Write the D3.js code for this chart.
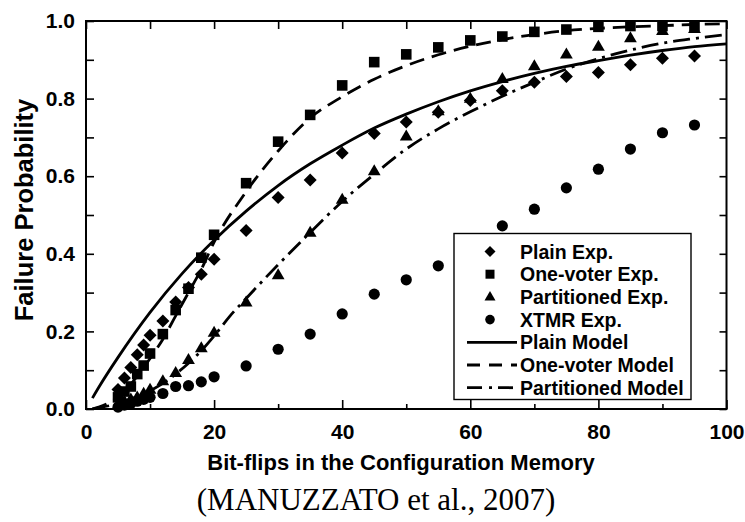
<!DOCTYPE html>
<html>
<head>
<meta charset="utf-8">
<script src="https://cdn.jsdelivr.net/npm/d3@7"></script>
<style>
  html, body { margin: 0; padding: 0; background: #fff; }
  svg { display: block; }
  .lbl { font-family: "Liberation Sans", Arial, Helvetica, sans-serif; font-weight: bold; fill: #000; }
  .cap { font-family: "Liberation Serif", "Times New Roman", serif; fill: #000; }
</style>
</head>
<body>
<svg id="chart" width="745" height="522"></svg>
<script>
// Number of bit-flips injected for each experiment
const flips = [5, 6, 7, 8, 9, 10, 12, 14, 16, 18, 20, 25, 30, 35, 40, 45, 50, 55, 60, 65, 70, 75, 80, 85, 90, 95];

// Measured failure probabilities
const plainExp     = [0.05, 0.08, 0.107, 0.14, 0.165, 0.19, 0.227, 0.276, 0.313, 0.347, 0.386, 0.46, 0.545, 0.59, 0.66, 0.71, 0.74, 0.765, 0.795, 0.82, 0.842, 0.857, 0.867, 0.887, 0.904, 0.91];
const oneVoterExp  = [0.03, 0.045, 0.058, 0.09, 0.112, 0.143, 0.193, 0.255, 0.31, 0.39, 0.449, 0.582, 0.689, 0.758, 0.834, 0.894, 0.914, 0.932, 0.95, 0.96, 0.972, 0.978, 0.985, 0.987, 0.987, 0.988];
const partExp      = [0.01, 0.02, 0.025, 0.03, 0.04, 0.05, 0.072, 0.093, 0.127, 0.157, 0.197, 0.275, 0.345, 0.455, 0.54, 0.613, 0.703, 0.768, 0.80, 0.851, 0.884, 0.914, 0.934, 0.956, 0.975, 0.98];
const xtmrExp      = [0.005, 0.01, 0.015, 0.02, 0.025, 0.03, 0.04, 0.058, 0.06, 0.07, 0.083, 0.111, 0.154, 0.193, 0.245, 0.296, 0.333, 0.369, 0.42, 0.472, 0.515, 0.57, 0.618, 0.67, 0.712, 0.732];

// Analytical model curves (sampled)
const plainModelX = [1, 2, 5, 10, 15, 20, 25, 30, 35, 40, 45, 50, 55, 60, 65, 70, 75, 80, 85, 90, 95, 100];
const plainModelY = [0.028, 0.056, 0.133, 0.249, 0.349, 0.435, 0.51, 0.576, 0.632, 0.68, 0.724, 0.76, 0.792, 0.82, 0.844, 0.865, 0.883, 0.898, 0.912, 0.924, 0.934, 0.941];

const oneVoterModelX = [1, 2, 4, 6, 8, 10, 12, 14, 16, 18, 20, 25, 30, 35, 40, 45, 50, 55, 60, 65, 70, 75, 80, 85, 90, 95, 100];
const oneVoterModelY = [0.0, 0.005, 0.02, 0.045, 0.085, 0.13, 0.18, 0.24, 0.3, 0.36, 0.43, 0.56, 0.665, 0.75, 0.805, 0.85, 0.885, 0.913, 0.935, 0.952, 0.965, 0.975, 0.981, 0.985, 0.988, 0.991, 0.993];

const partModelX = [1, 2, 4, 6, 8, 10, 12, 14, 16, 18, 20, 22.5, 25, 30, 35, 40, 45, 50, 55, 60, 65, 70, 75, 80, 85, 90, 95, 100];
const partModelY = [0.0, 0.003, 0.01, 0.02, 0.032, 0.047, 0.066, 0.09, 0.118, 0.15, 0.188, 0.24, 0.285, 0.372, 0.455, 0.535, 0.605, 0.67, 0.722, 0.766, 0.806, 0.842, 0.876, 0.903, 0.925, 0.943, 0.955, 0.965];

// Axis ticks
const xMajorTicks = [0, 20, 40, 60, 80, 100];
const xMinorTicks = [10, 30, 50, 70, 90];
const yMajorTicks = [0, 0.2, 0.4, 0.6, 0.8, 1.0];
const yAllTicks   = [0, 0.1, 0.2, 0.3, 0.4, 0.5, 0.6, 0.7, 0.8, 0.9, 1.0];

const legendLabels = ["Plain Exp.", "One-voter Exp.", "Partitioned Exp.", "XTMR Exp.", "Plain Model", "One-voter Model", "Partitioned Model"];

const svg = d3.select("#chart");
const L = 86, R = 726.5, T = 21, B = 409;

const x = d3.scaleLinear().domain([0, 100]).range([L, R]);
const y = d3.scaleLinear().domain([0, 1]).range([B, T]);

// clip for curves
svg.append("defs").append("clipPath").attr("id", "plotClip")
  .append("rect").attr("x", L).attr("y", T).attr("width", R - L).attr("height", B - T);

// ---- axes ----
function styleAxis(g) {
  g.select(".domain").remove();
  g.selectAll(".tick line").attr("stroke", "#000").attr("stroke-width", 1.6);
}

svg.append("g").attr("transform", `translate(0,${B})`)
  .call(d3.axisBottom(x).tickValues(xMajorTicks).tickSize(-9).tickPadding(15).tickFormat(d3.format("d")))
  .call(styleAxis)
  .call(g => g.selectAll("text").attr("class", "lbl").attr("font-size", 21));

svg.append("g").attr("transform", `translate(0,${B})`)
  .call(d3.axisBottom(x).tickValues(xMinorTicks).tickSize(-5).tickFormat(""))
  .call(styleAxis);

svg.append("g").attr("transform", `translate(0,${T})`)
  .call(d3.axisTop(x).tickValues(xMajorTicks.concat(xMinorTicks)).tickSize(-8).tickFormat(""))
  .call(styleAxis);

svg.append("g").attr("transform", `translate(${L},0)`)
  .call(d3.axisLeft(y).tickValues(yAllTicks).tickSize(-8).tickFormat(""))
  .call(styleAxis);

svg.append("g").attr("transform", `translate(${L},0)`)
  .call(d3.axisLeft(y).tickValues(yMajorTicks).tickSize(0).tickPadding(11).tickFormat(d3.format(".1f")))
  .call(styleAxis)
  .call(g => g.selectAll("text").attr("class", "lbl").attr("font-size", 21));

svg.append("g").attr("transform", `translate(${R},0)`)
  .call(d3.axisRight(y).tickValues(yAllTicks).tickSize(-7).tickFormat(""))
  .call(styleAxis);

// frame
svg.append("rect").attr("x", L).attr("y", T).attr("width", R - L).attr("height", B - T)
  .attr("fill", "none").attr("stroke", "#000").attr("stroke-width", 2);

// ---- model curves ----
const line = d3.line().x(d => x(d[0])).y(d => y(d[1])).curve(d3.curveMonotoneX);
const models = [
  { xs: plainModelX, ys: plainModelY, dash: null },
  { xs: oneVoterModelX, ys: oneVoterModelY, dash: "15,8" },
  { xs: partModelX, ys: partModelY, dash: "17,6,3,6" }
];
const curves = svg.append("g").attr("clip-path", "url(#plotClip)");
models.forEach(m => {
  curves.append("path")
    .attr("d", line(m.xs.map((v, i) => [v, m.ys[i]])))
    .attr("fill", "none").attr("stroke", "#000").attr("stroke-width", 2.8)
    .attr("stroke-dasharray", m.dash);
});

// ---- markers ----
function diamondPath(r) { return `M0,${-r}L${r},0L0,${r}L${-r},0Z`; }
function squarePath(s) { return `M${-s},${-s}H${s}V${s}H${-s}Z`; }
function trianglePath(w, h) { return `M0,${-h * 0.62}L${w},${h * 0.38}L${-w},${h * 0.38}Z`; }
const shapes = [
  { vals: plainExp,    path: diamondPath(6.5) },
  { vals: oneVoterExp, path: squarePath(5.3) },
  { vals: partExp,     path: trianglePath(6.4, 11) },
  { vals: xtmrExp,     path: null }
];
const marks = svg.append("g");
shapes.forEach(s => {
  const g = marks.append("g");
  flips.forEach((f, i) => {
    if (s.path) {
      g.append("path").attr("d", s.path)
        .attr("transform", `translate(${x(f)},${y(s.vals[i])})`).attr("fill", "#000");
    } else {
      g.append("circle").attr("cx", x(f)).attr("cy", y(s.vals[i])).attr("r", 5.6).attr("fill", "#000");
    }
  });
});

// ---- legend ----
const lg = svg.append("g");
lg.append("rect").attr("x", 454).attr("y", 233.5).attr("width", 237).attr("height", 166)
  .attr("fill", "#fff").attr("stroke", "#000").attr("stroke-width", 1.4);
const rowY = i => 251.5 + i * 22.7;
legendLabels.forEach((t, i) => {
  lg.append("text").attr("class", "lbl").attr("x", 520).attr("y", rowY(i)).attr("dy", "0.36em")
    .attr("font-size", 19.5).text(t);
});
lg.append("path").attr("d", diamondPath(5.5)).attr("transform", `translate(490,${rowY(0)})`);
lg.append("path").attr("d", squarePath(4.5)).attr("transform", `translate(490,${rowY(1)})`);
lg.append("path").attr("d", trianglePath(5.5, 9.5)).attr("transform", `translate(490,${rowY(2)})`);
lg.append("circle").attr("cx", 490).attr("cy", rowY(3)).attr("r", 4.8);
[null, "13,9", "15,7,3,6"].forEach((d, k) => {
  lg.append("line").attr("x1", 467).attr("x2", 517).attr("y1", rowY(4 + k)).attr("y2", rowY(4 + k))
    .attr("stroke", "#000").attr("stroke-width", 2.8).attr("stroke-dasharray", d);
});

// ---- titles ----
svg.append("text").attr("class", "lbl").attr("font-size", 25.5)
  .attr("text-anchor", "middle").attr("transform", "translate(33,210) rotate(-90)")
  .text("Failure Probability");
svg.append("text").attr("class", "lbl").attr("font-size", 22)
  .attr("text-anchor", "middle").attr("x", 401).attr("y", 470)
  .text("Bit-flips in the Configuration Memory");
svg.append("text").attr("class", "cap").attr("font-size", 31)
  .attr("text-anchor", "middle").attr("x", 376).attr("y", 510)
  .text("(MANUZZATO et al., 2007)");
</script>
</body>
</html>
